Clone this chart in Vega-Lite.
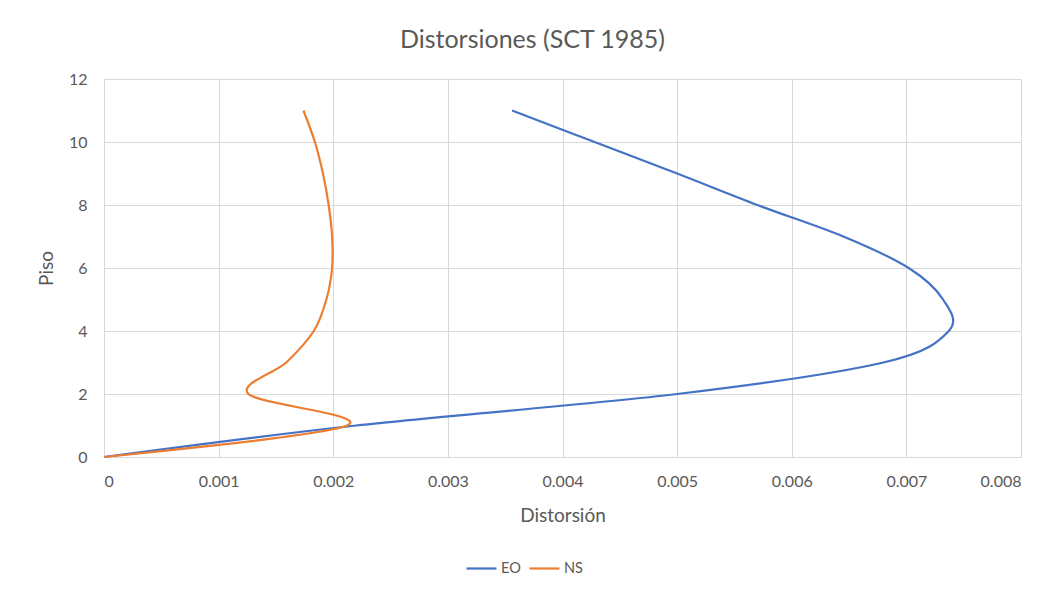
{
  "$schema": "https://vega.github.io/schema/vega-lite/v6.json",
  "autosize": {"type": "none"},
  "width": 917,
  "height": 378,
  "padding": {"left": 104, "top": 79, "right": 30, "bottom": 137},
  "background": "white",
  "title": {
    "text": "Distorsiones (SCT 1985)",
    "font": "Lato",
    "fontSize": 25,
    "fontWeight": "normal",
    "color": "#595959",
    "anchor": "middle",
    "dx": -30,
    "offset": 18
  },
  "data": {
    "values": [
      {"Piso": 0, "Distorsion": 0.0, "Serie": "EO"},
      {"Piso": 1, "Distorsion": 0.0022, "Serie": "EO"},
      {"Piso": 2, "Distorsion": 0.0050, "Serie": "EO"},
      {"Piso": 3, "Distorsion": 0.0068, "Serie": "EO"},
      {"Piso": 4, "Distorsion": 0.00737, "Serie": "EO"},
      {"Piso": 5, "Distorsion": 0.00732, "Serie": "EO"},
      {"Piso": 6, "Distorsion": 0.00702, "Serie": "EO"},
      {"Piso": 7, "Distorsion": 0.00645, "Serie": "EO"},
      {"Piso": 8, "Distorsion": 0.0057, "Serie": "EO"},
      {"Piso": 9, "Distorsion": 0.0050, "Serie": "EO"},
      {"Piso": 10, "Distorsion": 0.00428, "Serie": "EO"},
      {"Piso": 11, "Distorsion": 0.00356, "Serie": "EO"},
      {"Piso": 0, "Distorsion": 0.0, "Serie": "NS"},
      {"Piso": 1, "Distorsion": 0.00212, "Serie": "NS"},
      {"Piso": 2, "Distorsion": 0.00126, "Serie": "NS"},
      {"Piso": 3, "Distorsion": 0.00159, "Serie": "NS"},
      {"Piso": 4, "Distorsion": 0.00183, "Serie": "NS"},
      {"Piso": 5, "Distorsion": 0.00194, "Serie": "NS"},
      {"Piso": 6, "Distorsion": 0.00199, "Serie": "NS"},
      {"Piso": 7, "Distorsion": 0.00199, "Serie": "NS"},
      {"Piso": 8, "Distorsion": 0.00196, "Serie": "NS"},
      {"Piso": 9, "Distorsion": 0.00191, "Serie": "NS"},
      {"Piso": 10, "Distorsion": 0.00184, "Serie": "NS"},
      {"Piso": 11, "Distorsion": 0.00174, "Serie": "NS"}
    ]
  },
  "mark": {"type": "line", "interpolate": "cardinal", "tension": 0, "strokeWidth": 2.2},
  "encoding": {
    "x": {
      "field": "Distorsion",
      "type": "quantitative",
      "title": "Distorsión",
      "scale": {"domain": [0, 0.008], "nice": false},
      "axis": {
        "values": [0, 0.001, 0.002, 0.003, 0.004, 0.005, 0.006, 0.007, 0.008],
        "labelExpr": "datum.value == 0 ? '0' : format(datum.value, '.3f')",
        "grid": true,
        "ticks": false,
        "domain": true,
        "domainColor": "#d9d9d9",
        "labelPadding": 16,
        "titlePadding": 17
      }
    },
    "y": {
      "field": "Piso",
      "type": "quantitative",
      "title": "Piso",
      "scale": {"domain": [0, 12], "nice": false},
      "axis": {
        "values": [0, 2, 4, 6, 8, 10, 12],
        "grid": true,
        "ticks": false,
        "domain": false,
        "labelPadding": 17,
        "titlePadding": 12
      }
    },
    "color": {
      "field": "Serie",
      "type": "nominal",
      "title": null,
      "scale": {"domain": ["EO", "NS"], "range": ["#4472C4", "#ED7D31"]},
      "legend": {
        "orient": "none",
        "direction": "horizontal",
        "legendX": 361,
        "legendY": 473,
        "symbolType": "stroke",
        "symbolSize": 900,
        "symbolStrokeWidth": 2.2,
        "labelFont": "Lato",
        "labelFontSize": 14.5,
        "labelColor": "#595959",
        "labelOffset": 3,
        "columnPadding": 4
      }
    },
    "order": {"field": "Piso", "type": "quantitative"}
  },
  "config": {
    "view": {"stroke": null},
    "axis": {
      "gridColor": "#d9d9d9",
      "gridWidth": 1,
      "labelFont": "Lato",
      "labelFontSize": 16,
      "labelColor": "#595959",
      "titleFont": "Lato",
      "titleFontSize": 19,
      "titleFontWeight": "normal",
      "titleColor": "#595959"
    }
  }
}
